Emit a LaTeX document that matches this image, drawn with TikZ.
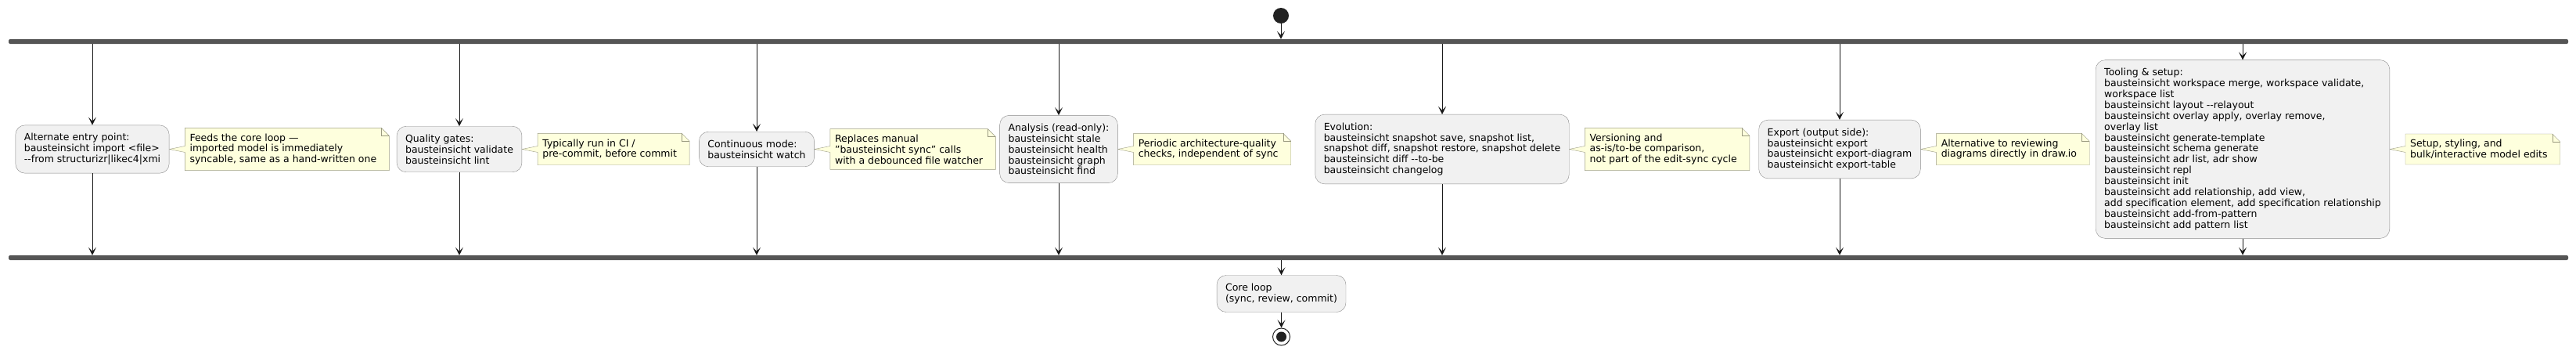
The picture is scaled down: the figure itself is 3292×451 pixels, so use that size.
\documentclass[tikz,border=0pt]{standalone}
\usepackage{fontspec}
\setmainfont{DejaVu Sans}
\usetikzlibrary{arrows.meta,backgrounds}

\definecolor{actfill}{HTML}{F1F1F1}
\definecolor{actline}{HTML}{8A8A8A}
\definecolor{notefill}{HTML}{FEFFDD}
\definecolor{noteline}{HTML}{9A9A80}
\definecolor{barfill}{HTML}{555555}
\definecolor{dotfill}{HTML}{222222}

% two plain hyphens, no en dash
\newcommand{\dhy}{-\kern0pt-}

\tikzset{
	act/.style={draw=actline, fill=actfill, rounded corners=12pt, align=left, inner xsep=11pt, inner ysep=10.5pt},
	umlnote/.style={align=left, inner xsep=6pt, inner ysep=7pt, anchor=west},
	bar/.style={fill=barfill, rounded corners=2pt, minimum width=3271pt, minimum height=6pt, inner sep=0pt},
	flow/.style={-{Stealth[length=10pt,width=10pt,inset=5pt]}, line width=1pt, draw=black!90},
}

\begin{document}
\begin{tikzpicture}[x=1pt, y=-1pt, font=\fontsize{12.5}{13.9}\selectfont]
	\useasboundingbox (0,0) rectangle (3292,451);

	% --- start dot, fork and join bars ---
	\node[circle, fill=dotfill, minimum size=20pt, inner sep=0pt] (start) at (1637,20) {};
	\node[bar] (fork) at (1646.5,53) {};
	\node[bar] (join) at (1646.5,329) {};

	% --- parallel branches ---
	\node[act] (b1) at (118,190.5) {Alternate entry point:\\bausteinsicht import <file>\\\dhy from structurizr|likec4|xmi};
	\node[act] (b2) at (587,190.5) {Quality gates:\\bausteinsicht validate\\bausteinsicht lint};
	\node[act] (b3) at (967,190.5) {Continuous mode:\\bausteinsicht watch};
	\node[act] (b4) at (1353,190.5) {Analysis (read-only):\\bausteinsicht stale\\bausteinsicht health\\bausteinsicht graph\\bausteinsicht find};
	\node[act] (b5) at (1843,190.5) {Evolution:\\bausteinsicht snapshot save, snapshot list,\\snapshot diff, snapshot restore, snapshot delete\\bausteinsicht diff \dhy to-be\\bausteinsicht changelog};
	\node[act] (b6) at (2351,190.5) {Export (output side):\\bausteinsicht export\\bausteinsicht export-diagram\\bausteinsicht export-table};
	\node[act] (b7) at (2866,190.5) {Tooling \& setup:\\bausteinsicht workspace merge, workspace validate,\\workspace list\\bausteinsicht layout \dhy relayout\\bausteinsicht overlay apply, overlay remove,\\overlay list\\bausteinsicht generate-template\\bausteinsicht schema generate\\bausteinsicht adr list, adr show\\bausteinsicht repl\\bausteinsicht init\\bausteinsicht add relationship, add view,\\add specification element, add specification relationship\\bausteinsicht add-from-pattern\\bausteinsicht add pattern list};

	% --- notes beside the branches ---
	\node[umlnote] (n1) at ([xshift=20pt]b1.east) {Feeds the core loop —\\imported model is immediately\\syncable, same as a hand-written one};
	\node[umlnote] (n2) at ([xshift=20pt]b2.east) {Typically run in CI /\\pre-commit, before commit};
	\node[umlnote] (n3) at ([xshift=20pt]b3.east) {Replaces manual\\"bausteinsicht sync" calls\\with a debounced file watcher};
	\node[umlnote] (n4) at ([xshift=20pt]b4.east) {Periodic architecture-quality\\checks, independent of sync};
	\node[umlnote] (n5) at ([xshift=20pt]b5.east) {Versioning and\\as-is/to-be comparison,\\not part of the edit-sync cycle};
	\node[umlnote] (n6) at ([xshift=20pt]b6.east) {Alternative to reviewing\\diagrams directly in draw.io};
	\node[umlnote] (n7) at ([xshift=20pt]b7.east) {Setup, styling, and\\bulk/interactive model edits};

	% --- core loop and end ---
	\node[act] (core) at (1637.5,375) {Core loop\\(sync, review, commit)};
	\node[circle, draw=dotfill, line width=1pt, fill=white, minimum size=22pt, inner sep=0pt] (stop) at (1637.5,430) {};
	\fill[dotfill] (stop) circle (6.5pt);

	% --- connectors ---
	\draw[flow] (start) -- (start |- fork.north);
	\foreach \i in {1,...,7} {
		\draw[flow] (fork.south -| b\i) -- (b\i.north);
		\draw[flow] (b\i.south) -- (b\i.south |- join.north);
	}
	\draw[flow] (join.south -| core) -- (core.north);
	\draw[flow] (core.south) -- (stop.north);

	% --- note shapes with dog-ear and pointer (behind the text) ---
	\begin{scope}[on background layer]
		\foreach \i in {1,...,7} {
			\draw[draw=noteline, fill=notefill] (n\i.north west) -- (n\i.north east) -- ([xshift=10pt,yshift=-10pt]n\i.north east) -- ([xshift=10pt]n\i.south east) -- (n\i.south west) -- cycle;
			\draw[noteline] (n\i.north east) |- ([xshift=10pt,yshift=-10pt]n\i.north east);
			\fill[notefill] (b\i.east) -- ([xshift=1pt,yshift=4pt]n\i.west) -- ([xshift=1pt,yshift=-4pt]n\i.west) -- cycle;
			\draw[noteline] ([yshift=4pt]n\i.west) -- (b\i.east) -- ([yshift=-4pt]n\i.west);
		}
	\end{scope}
\end{tikzpicture}
\end{document}
